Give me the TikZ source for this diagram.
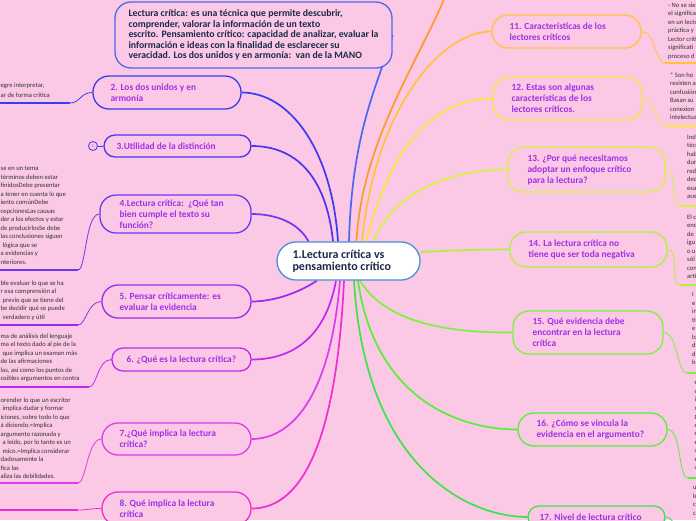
\documentclass[tikz,border=0pt]{standalone}
\usepackage{fontspec}
\setmainfont{Carlito}
\usetikzlibrary{backgrounds}
\definecolor{bgpink}{HTML}{FBC8E5}
\definecolor{ttext}{HTML}{A030E8}
\definecolor{navy}{HTML}{1B2A4A}
\definecolor{leafc}{HTML}{333333}
\definecolor{cblue}{HTML}{4A8FD8}
\definecolor{ctop}{HTML}{4A68F0}
\definecolor{c2}{HTML}{3B3BF0}
\definecolor{c3}{HTML}{4A35F0}
\definecolor{c4}{HTML}{6E38F0}
\definecolor{c5}{HTML}{9A2AF0}
\definecolor{c6}{HTML}{C02AEE}
\definecolor{c7}{HTML}{DE3CEE}
\definecolor{c8}{HTML}{F22CD2}
\definecolor{c11}{HTML}{FFC43A}
\definecolor{c12}{HTML}{F9E63A}
\definecolor{c13}{HTML}{D9F23A}
\definecolor{c14}{HTML}{B0F23A}
\definecolor{c15}{HTML}{7DF23A}
\definecolor{c16}{HTML}{55F03A}
\definecolor{c17}{HTML}{3BE548}
\definecolor{corange}{HTML}{FF9A2A}
\begin{document}
\begin{tikzpicture}[x=1pt,y=-1pt,
  bx/.style={draw, line width=1.3pt, fill=bgpink, rounded corners=#1, inner sep=0pt},
  bx/.default=16pt,
  bt/.style={font=\bfseries\fontsize{9.4}{11}\selectfont, text=ttext, align=left, inner sep=0pt, anchor=west},
  leaf/.style={font=\fontsize{6.6}{8.5}\selectfont, text=leafc, align=left, inner sep=0pt, anchor=north west},
  conn/.style={line width=1.7pt},
  lc/.style={line width=0.8pt},
  ul/.style={line width=1.5pt}]
\useasboundingbox (0,0) rectangle (696,520);
\clip (0,0) rectangle (696,520);

% ---------- boxes ----------
\node[bx=19pt, draw=cblue, fill=white, minimum width=143pt, minimum height=38pt] (c) at (348.5,261) {};
\node[font=\bfseries\fontsize{12}{12}\selectfont, text=navy, align=left, inner sep=0pt, anchor=west] (tc) at ([xshift=16pt]c.west) {1.Lectura crítica vs\\pensamiento crítico};

\node[bx, draw=ctop, minimum width=277pt, minimum height=66pt] (top) at (253.5,35) {};
\node[font=\bfseries\fontsize{9.8}{10.4}\selectfont, text=navy, align=left, inner sep=0pt, anchor=west] (ttop) at ([xshift=14pt]top.west)
 {Lectura crítica: es una técnica que permite descubrir,\\comprender, valorar la información de un texto\\escrito. Pensamiento crítico: capacidad de analizar, evaluar la\\información e ideas con la finalidad de esclarecer su\\veracidad. Los dos unidos y en armonía:\ \ van de la MANO};

\node[bx, draw=c2, minimum width=148pt, minimum height=33pt] (b2) at (167,92.5) {};
\node[bt] (t2) at ([xshift=18pt]b2.west) {2. Los dos unidos y en\\armonía};
\node[bx=11pt, draw=c3, minimum width=147pt, minimum height=22pt] (b3) at (177.5,146) {};
\node[bt] (t3) at ([xshift=13pt]b3.west) {3.Utilidad de la distinción};
\node[circle, draw=c3, line width=0.8pt, fill=bgpink, minimum size=9pt, inner sep=0pt, font=\fontsize{4}{4}\selectfont, text=c3] (k3) at (93,146) {1};
\node[bx, draw=c4, minimum width=151pt, minimum height=38pt] (b4) at (175.5,214) {};
\node[bt] (t4) at ([xshift=20pt]b4.west) {4.Lectura crítica:\ \ ¿Qué tan\\bien cumple el texto su\\función?};
\node[bx, draw=c5, minimum width=149pt, minimum height=33pt] (b5) at (176.5,301.5) {};
\node[bt] (t5) at ([xshift=18pt]b5.west) {5. Pensar críticamente: es\\evaluar la evidencia};
\node[bx=11pt, draw=c6, minimum width=139pt, minimum height=23pt] (b6) at (181.5,359.5) {};
\node[bt] (t6) at ([xshift=15pt]b6.west) {6. ¿Qué es la lectura crítica?};
\node[bx, draw=c7, minimum width=149pt, minimum height=32pt] (b7) at (176.5,439) {};
\node[bt] (t7) at ([xshift=18pt]b7.west) {7.¿Qué implica la lectura\\crítica?};
\node[bx, draw=c8, minimum width=149pt, minimum height=33pt] (b8) at (176.5,508.5) {};
\node[bt] (t8) at ([xshift=18pt]b8.west) {8. Qué implica la lectura\\crítica};

\node[bx, draw=c11, minimum width=149pt, minimum height=33pt] (b11) at (566.5,31.5) {};
\node[bt] (t11) at ([xshift=18pt]b11.west) {11. Características de los\\lectores críticos};
\node[bx, draw=c12, minimum width=149pt, minimum height=43pt] (b12) at (567.5,98.5) {};
\node[bt] (t12) at ([xshift=19pt]b12.west) {12. Estas son algunas\\características de los\\lectores críticos.};
\node[bx, draw=c13, minimum width=157pt, minimum height=45pt] (b13) at (586.5,169.5) {};
\node[bt] (t13) at ([xshift=20pt]b13.west) {13. ¿Por qué necesitamos\\adoptar un enfoque crítico\\para la lectura?};
\node[bx, draw=c14, minimum width=157pt, minimum height=35pt] (b14) at (588.5,249.5) {};
\node[bt] (t14) at ([xshift=19pt]b14.west) {14. La lectura crítica no\\tiene que ser toda negativa};
\node[bx, draw=c15, minimum width=150pt, minimum height=43pt] (b15) at (588,332.5) {};
\node[bt] (t15) at ([xshift=20pt]b15.west) {15. Qué evidencia debe\\encontrar en la lectura\\crítica};
\node[bx, draw=c16, minimum width=149pt, minimum height=33pt] (b16) at (592.5,429.5) {};
\node[bt] (t16) at ([xshift=19pt]b16.west) {16. ¿Cómo se vincula la\\evidencia en el argumento?};
\node[bx=11pt, draw=c17, minimum width=137pt, minimum height=22pt] (b17) at (596.5,517) {};
\node[bt] (t17) at ([xshift=12pt]b17.west) {17. Nivel de lectura crítico};

% ---------- leaf texts ----------
\node[leaf, font=\fontsize{6.6}{10.7}\selectfont] (l2) at (0.5,82.5) {egre interpretar,\\ar de forma crítica};
\node[leaf] (l4) at (0.5,166.5) {se en un tema\\términos deben estar\\finidosDebe presentar\\a tener en cuenta lo que\\iento comúnDebe\\cepcionesLas causas\\der a los efectos y estar\\de producirlosSe debe\\las conclusiones siguen\\\hspace*{2pt}lógica que se\\a evidencias y\\nteriores.};
\node[leaf] (l5) at (0.5,280.5) {ble evaluar lo que se ha\\r esa comprensión al\\\hspace*{2pt}previo que se tiene del\\be decidir qué se puede\\\hspace*{2pt}verdadero y útil};
\node[leaf] (l6) at (0.5,333.5) {ma de análisis del lenguaje\\ma el texto dado al pie de la\\\hspace*{2pt}que implica un examen más\\de las afirmaciones\\las, así como los puntos de\\osibles argumentos en contra};
\node[leaf] (l7) at (0.5,397.5) {orender lo que un escritor\\\hspace*{2pt}implica dudar y formar\\iciones, sobre todo lo que\\á diciendo.=Implica\\argumento razonada y\\\hspace*{2pt}a leído, por lo tanto es un\\\hspace*{2pt}mico.=Implica considerar\\dadosamente la\\fica las\\aliza las debilidades.};

\node[leaf] (l11) at (668,2.5) {- No se sie\\el significa\\en un lecto\\práctica y\\Lector críti\\significati\\proceso d};
\node[leaf] (l12) at (670,72.5) {* Son ho\\resisten a\\confusión\\Basan su\\conexion\\intelectua};
\node[leaf] (l13) at (687,134.5) {Indi\\técn\\hab\\dur\\red\\dec\\esa\\ace};
\node[leaf] (l14) at (687,214.5) {El c\\enc\\de\\igu\\o u\\sól\\con\\arti};
\node[leaf] (l15) at (692,292.5) {I\\e\\in\\ti\\e\\lo\\d\\d\\b};
\node[leaf] (l16) at (694.5,381.5) {e\\c\\i\\s\\p\\e\\e\\e\\a\\e\\a};
\node[leaf] (l17) at (693,486.5) {u\\le\\c\\c};

% ---------- coordinates ----------
\coordinate (u2) at (70,103);  \coordinate (u2s) at (0,103);
\coordinate (u4) at (78,270);  \coordinate (u4s) at (0,270);
\coordinate (u5) at (78,325);  \coordinate (u5s) at (0,325);
\coordinate (u6) at (89,387);  \coordinate (u6s) at (0,387);
\coordinate (u7) at (78,483);  \coordinate (u7s) at (0,483);
\coordinate (u8) at (78,510);  \coordinate (u8s) at (0,510);
\coordinate (u11) at (665,63); \coordinate (u11e) at (697,63);
\coordinate (u12) at (665,126); \coordinate (u12e) at (697,126);
\coordinate (u13) at (680,206); \coordinate (u13e) at (697,206);
\coordinate (u14) at (680,285); \coordinate (u14e) at (697,285);
\coordinate (u15) at (687,373); \coordinate (u15e) at (697,373);
\coordinate (u16) at (688,478); \coordinate (u16e) at (697,478);
\coordinate (u17) at (688,545); \coordinate (u17e) at (697,545);
\coordinate (o10) at (447,-8);

% ---------- connectors (behind) ----------
\begin{pgfonlayer}{background}
\fill[bgpink] (0,0) rectangle (696,520);
\draw[conn, c2] ([xshift=-10.5pt]c.north) .. controls (332,150) and (290,92.5) .. (b2.east);
\draw[conn, c3] ([xshift=-15.5pt]c.north) .. controls (326,175) and (295,146) .. (b3.east);
\draw[conn, c4] ([xshift=-40pt]c.north) .. controls (298,222) and (275,214) .. (b4.east);
\draw[conn, ctop] ([xshift=0.5pt]c.north) .. controls (352,130) and (378,85) .. (top.east);
\draw[conn, corange] ([xshift=8pt]c.north) .. controls (362,140) and (420,60) .. (o10);
\draw[conn, c11] ([xshift=13.5pt]c.north) .. controls (375,110) and (440,31.5) .. (b11.west);
\draw[conn, c12] ([xshift=17.5pt]c.north) .. controls (395,130) and (445,98.5) .. (b12.west);
\draw[conn, c13] ([xshift=24.5pt]c.north) .. controls (400,180) and (470,169.5) .. (b13.west);
\draw[conn, c14] ([yshift=9pt]c.east) .. controls (460,250) and (480,249.5) .. (b14.west);
\draw[conn, c15] ([xshift=11.5pt]c.south) .. controls (390,330) and (470,332.5) .. (b15.west);
\draw[conn, c16] ([xshift=9.5pt]c.south) .. controls (375,400) and (460,429.5) .. (b16.west);
\draw[conn, c17] ([xshift=5.5pt]c.south) .. controls (365,470) and (470,517) .. (b17.west);
\draw[conn, c5] ([xshift=-31.5pt]c.south) .. controls (300,292) and (275,301.5) .. (b5.east);
\draw[conn, c6] ([xshift=-12.5pt]c.south) .. controls (325,340) and (290,359.5) .. (b6.east);
\draw[conn, c7] ([xshift=-8.5pt]c.south) .. controls (330,400) and (290,439) .. (b7.east);
\draw[conn, c8] ([xshift=-4.5pt]c.south) .. controls (335,470) and (290,508.5) .. (b8.east);
\draw[lc, c3] (k3) -- (b3.west);
% leaf links
\draw[lc, c2] (b2.west) .. controls +(-12,0) and +(10,0) .. (u2);
\draw[ul, c2] (u2) -- (u2s);
\draw[lc, c4] (b4.west) .. controls +(-14,0) and +(8,0) .. (u4);
\draw[ul, c4] (u4) -- (u4s);
\draw[lc, c5] (b5.west) .. controls +(-14,0) and +(8,0) .. (u5);
\draw[ul, c5] (u5) -- (u5s);
\draw[lc, c6] (b6.west) .. controls +(-14,0) and +(8,0) .. (u6);
\draw[ul, c6] (u6) -- (u6s);
\draw[lc, c7] (b7.west) .. controls +(-14,0) and +(8,0) .. (u7);
\draw[ul, c7] (u7) -- (u7s);
\draw[lc, c8] (b8.west) .. controls +(-12,0) and +(10,0) .. (u8);
\draw[line width=2.6pt, c8] (u8) -- (u8s);
\draw[lc, c11] (b11.east) .. controls +(14,0) and +(-10,0) .. (u11);
\draw[ul, c11] (u11) -- (u11e);
\draw[lc, c12] (b12.east) .. controls +(14,0) and +(-10,0) .. (u12);
\draw[ul, c12] (u12) -- (u12e);
\draw[lc, c13] (b13.east) .. controls +(12,0) and +(-10,0) .. (u13);
\draw[ul, c13] (u13) -- (u13e);
\draw[lc, c14] (b14.east) .. controls +(12,0) and +(-10,0) .. (u14);
\draw[ul, c14] (u14) -- (u14e);
\draw[lc, c15] (b15.east) .. controls +(14,0) and +(-10,0) .. (u15);
\draw[ul, c15] (u15) -- (u15e);
\draw[lc, c16] (b16.east) .. controls +(14,0) and +(-10,0) .. (u16);
\draw[ul, c16] (u16) -- (u16e);
\draw[lc, c17] (b17.east) .. controls +(12,0) and +(-10,0) .. (u17);
\draw[ul, c17] (u17) -- (u17e);
\end{pgfonlayer}
\end{tikzpicture}
\end{document}
